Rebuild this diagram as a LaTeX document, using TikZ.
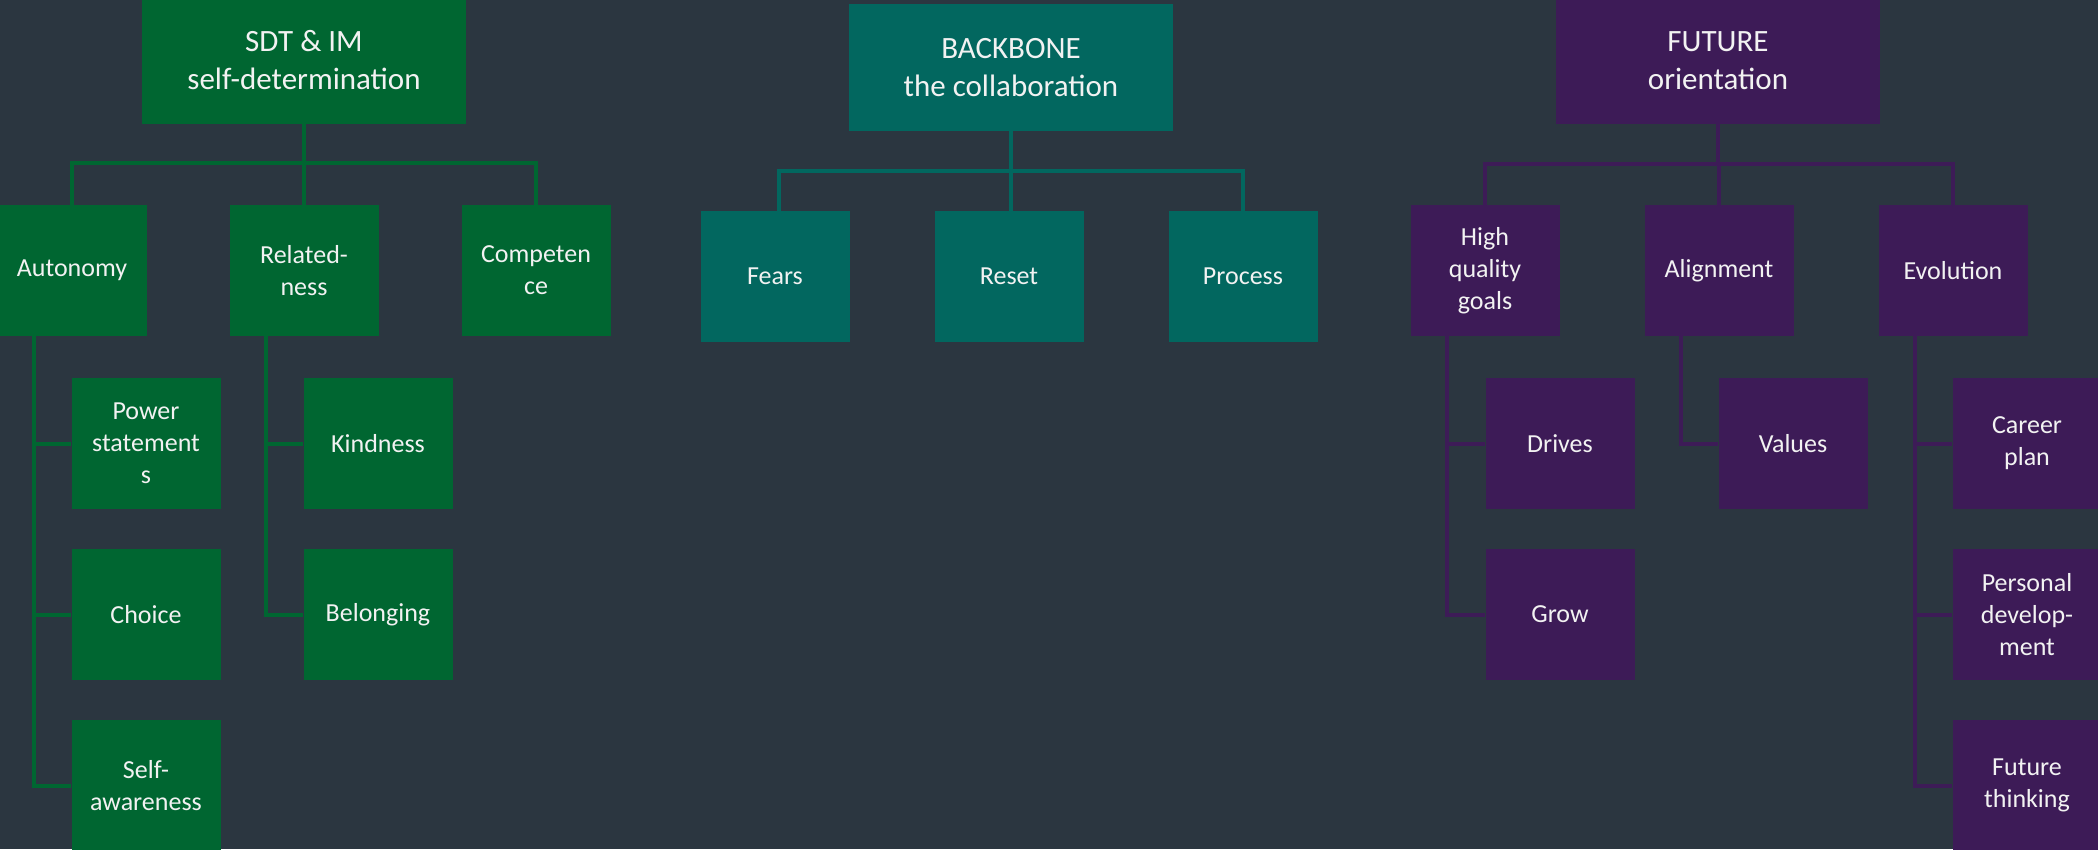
\documentclass[tikz,border=0pt]{standalone}
\usepackage{fontspec}
\setmainfont{Carlito}
\definecolor{bg}{HTML}{2B3640}
\definecolor{fg}{HTML}{F2F2F2}
\definecolor{grn}{HTML}{006631}
\definecolor{tea}{HTML}{02675F}
\definecolor{pur}{HTML}{3D1B57}
\begin{document}
\begin{tikzpicture}[x=1pt,y=-1pt,
  box/.style={minimum width=149pt, minimum height=131pt, inner sep=0pt, align=center,
    text=fg, font=\fontsize{26}{32}\selectfont},
  head/.style={minimum width=324pt, minimum height=127pt, inner sep=0pt, align=center,
    text=fg, font=\fontsize{31}{38}\selectfont},
  conn/.style={line width=4pt}]
\fill[bg] (0,0) rectangle (2098,849);
\useasboundingbox (0,0) rectangle (2098,849);

% ---------- left tree: SDT & IM ----------
\node[head, fill=grn] (sdt) at (304,60.5) {SDT \& IM\\self-determination};
\node[box, fill=grn] (aut) at (72,270.5) {Autonomy};
\node[box, fill=grn] (rel) at (304,270.5) {Related-\\ness};
\node[box, fill=grn] (com) at (536,270.5) {Competen\\ce};
\node[box, fill=grn] (pow) at (146,443.5) {Power\\statement\\s};
\node[box, fill=grn] (cho) at (146,614.5) {Choice};
\node[box, fill=grn] (saw) at (146,785.5) {Self-\\awareness};
\node[box, fill=grn] (kin) at (378,443.5) {Kindness};
\node[box, fill=grn] (bel) at (378,614.5) {Belonging};

\begin{scope}[conn, draw=grn]
  \draw (sdt.south) -- ++(0,39) -| (aut.north);
  \draw (sdt.south) -- ++(0,39) -| (com.north);
  \draw (sdt.south) -- (rel.north);
  \draw ([xshift=37pt]aut.south west) |- (pow.west);
  \draw ([xshift=37pt]aut.south west) |- (cho.west);
  \draw ([xshift=37pt]aut.south west) |- (saw.west);
  \draw ([xshift=37pt]rel.south west) |- (kin.west);
  \draw ([xshift=37pt]rel.south west) |- (bel.west);
\end{scope}

% ---------- middle tree: BACKBONE ----------
\node[head, fill=tea] (bb) at (1011,67.5) {BACKBONE\\the collaboration};
\node[box, fill=tea] (fea) at (775,276.5) {Fears};
\node[box, fill=tea] (res) at (1009,276.5) {Reset};
\node[box, fill=tea] (pro) at (1243,276.5) {Process};

\begin{scope}[conn, draw=tea]
  \draw (bb.south) -- ++(0,40) -| ([xshift=4pt]fea.north);
  \draw (bb.south) -- ++(0,40) -| (pro.north);
  \draw (bb.south) -- (bb.south |- res.north);
\end{scope}

% ---------- right tree: FUTURE ----------
\node[head, fill=pur] (fut) at (1718,60.5) {FUTURE\\orientation};
\node[box, fill=pur] (hig) at (1485,270.5) {High\\quality\\goals};
\node[box, fill=pur] (ali) at (1719,270.5) {Alignment};
\node[box, fill=pur] (evo) at (1953,270.5) {Evolution};
\node[box, fill=pur] (dri) at (1560,443.5) {Drives};
\node[box, fill=pur] (gro) at (1560,614.5) {Grow};
\node[box, fill=pur] (val) at (1793,443.5) {Values};
\node[box, fill=pur] (car) at (2027,443.5) {Career\\plan};
\node[box, fill=pur] (per) at (2027,614.5) {Personal\\develop-\\ment};
\node[box, fill=pur] (fth) at (2027,785.5) {Future\\thinking};

\begin{scope}[conn, draw=pur]
  \draw (fut.south) -- ++(0,40) -| (hig.north);
  \draw (fut.south) -- ++(0,40) -| (evo.north);
  \draw (fut.south) -- ++(0,40) -| (ali.north);
  \draw ([xshift=37pt]hig.south west) |- (dri.west);
  \draw ([xshift=37pt]hig.south west) |- (gro.west);
  \draw ([xshift=37pt]ali.south west) |- (val.west);
  \draw ([xshift=37pt]evo.south west) |- (car.west);
  \draw ([xshift=37pt]evo.south west) |- (per.west);
  \draw ([xshift=37pt]evo.south west) |- (fth.west);
\end{scope}
\end{tikzpicture}
\end{document}
